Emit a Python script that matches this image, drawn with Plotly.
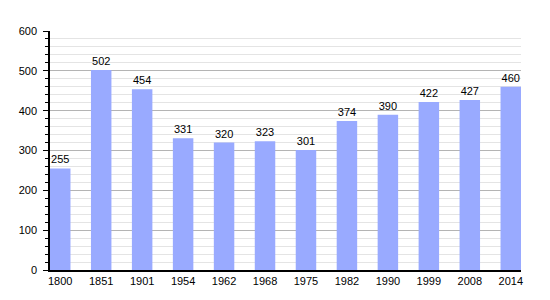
import plotly.graph_objects as go

years = ["1800", "1851", "1901", "1954", "1962", "1968", "1975", "1982", "1990", "1999", "2008", "2014"]
population = [255, 502, 454, 331, 320, 323, 301, 374, 390, 422, 427, 460]
y_ticks = [0, 100, 200, 300, 400, 500, 600]

fig = go.Figure(
    go.Bar(
        x=years,
        y=population,
        width=0.5,
        marker=dict(color="#99aaff", line=dict(width=0)),
        text=[str(v) for v in population],
        textposition="outside",
        textfont=dict(family="Liberation Sans, Arial, sans-serif", size=11, color="black"),
        cliponaxis=False,
    )
)

fig.update_layout(
    width=550,
    height=300,
    margin=dict(l=50, r=29, t=31, b=30),
    paper_bgcolor="white",
    plot_bgcolor="white",
    showlegend=False,
    font=dict(family="Liberation Sans, Arial, sans-serif", size=11, color="black"),
    bargap=0.5,
)

fig.update_xaxes(
    type="category",
    range=[-0.25, 11.25],
    showline=True,
    linecolor="black",
    linewidth=1.5,
    ticks="",
    showgrid=False,
    tickfont=dict(size=11, color="black"),
)

fig.update_yaxes(
    range=[0, 600],
    tickvals=y_ticks,
    showline=True,
    linecolor="black",
    linewidth=1.5,
    ticks="outside",
    ticklen=5,
    tickcolor="black",
    ticklabelstandoff=4,
    showgrid=True,
    gridcolor="#b4b4b4",
    gridwidth=1,
    zeroline=False,
    tickfont=dict(size=11, color="black"),
    minor=dict(
        dtick=20,
        ticks="outside",
        ticklen=3,
        tickcolor="black",
        showgrid=True,
        gridcolor="#e4e4e4",
        gridwidth=1,
    ),
)

fig.write_html("out.html")
